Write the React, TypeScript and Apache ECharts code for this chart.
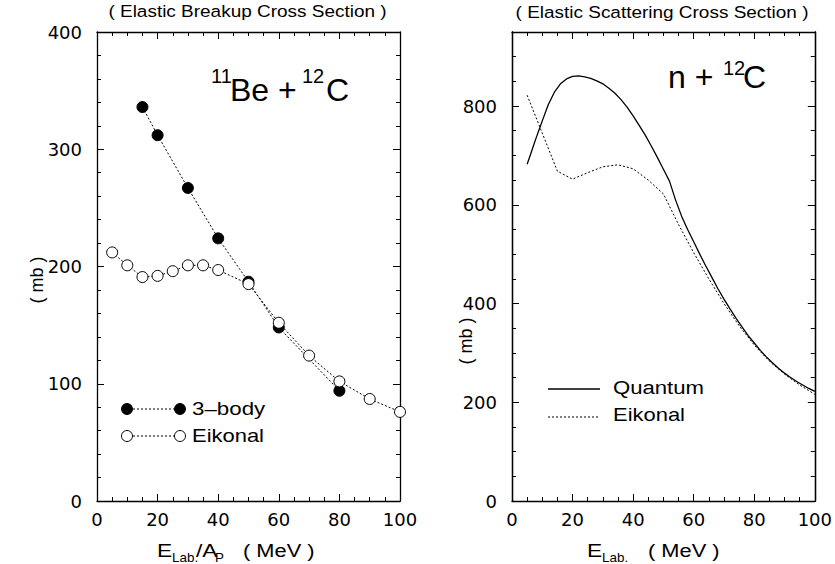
import React, { useEffect, useRef } from "react";
import * as echarts from "echarts";

// ---- Left panel: elastic breakup cross section (11Be + 12C) ----
const breakupEnergy = [15, 20, 30, 40, 50, 60, 80];
const breakupThreeBody = [336, 312, 267, 224, 187, 148, 94];
const breakupEikonalEnergy = [5, 10, 15, 20, 25, 30, 35, 40, 50, 60, 70, 80, 90, 100];
const breakupEikonal = [212, 201, 191, 192, 196, 201, 201, 197, 185, 152, 124, 102, 87, 76];

// ---- Right panel: elastic scattering cross section (n + 12C) ----
const quantumEnergy = [
  5, 6, 7, 8, 9, 10, 12, 14, 16, 18, 20, 22, 24, 26, 28, 30, 32, 34, 36, 38, 40,
  42, 44, 46, 48, 50, 52, 54, 56, 58, 60, 62, 64, 66, 68, 70, 72, 74, 76, 78, 80,
  82, 84, 86, 88, 90, 92, 94, 96, 98, 100,
];
const quantumSigma = [
  682, 700, 718, 736, 753, 770, 803, 828, 845, 855, 860, 861, 859, 856, 851, 845,
  836, 826, 813, 798, 780, 761, 741, 719, 696, 672, 648, 610, 577, 550, 525, 500,
  476, 453, 430, 409, 389, 370, 352, 335, 320, 305, 292, 280, 269, 259, 250, 242,
  235, 228, 222,
];
const eikonalScatEnergy = [5, 10, 15, 20, 25, 30, 35, 40, 45, 50, 55, 60, 65, 70, 75, 80, 85, 90, 95, 100];
const eikonalScatSigma = [822, 745, 668, 652, 665, 677, 681, 673, 650, 622, 560, 503, 450, 400, 355, 316, 283, 257, 235, 216];

const energyTicks = { min: 0, max: 100, interval: 20 };
const breakupTicks = { min: 0, max: 400, interval: 100 };
const scatTicks = { min: 0, max: 950, interval: 200, minorInterval: 50 };

const FONT = "'Liberation Sans', Arial, Helvetica, sans-serif";
const TICK_FONT = "'DejaVu Sans', 'Liberation Sans', sans-serif";
const BLACK = "#000";

const pairs = (xs: number[], ys: number[]) => xs.map((x, i) => [x, ys[i]]);

function xAxisCfg(gridIndex: number, top: boolean) {
  return {
    type: "value",
    gridIndex,
    position: top ? "top" : "bottom",
    min: energyTicks.min,
    max: energyTicks.max,
    interval: energyTicks.interval,
    axisLine: { show: true, onZero: false, lineStyle: { color: BLACK, width: 1.3 } },
    axisTick: { show: true, inside: true, length: 7, lineStyle: { color: BLACK, width: 1 } },
    minorTick: { show: true, splitNumber: 4, length: 4, lineStyle: { color: BLACK, width: 1 } },
    splitLine: { show: false },
    minorSplitLine: { show: false },
    axisLabel: {
      show: !top,
      color: BLACK,
      fontFamily: TICK_FONT,
      fontSize: 18,
      margin: 9,
    },
  };
}

function yAxisCfg(
  gridIndex: number,
  right: boolean,
  min: number,
  max: number,
  interval: number,
  opts: { minorSplit?: number; tickLen?: number; labels?: boolean; labelMod?: number }
) {
  return {
    type: "value",
    gridIndex,
    position: right ? "right" : "left",
    min,
    max,
    interval,
    axisLine: { show: true, onZero: false, lineStyle: { color: BLACK, width: 1.3 } },
    axisTick: { show: true, inside: true, length: opts.tickLen ?? 7, lineStyle: { color: BLACK, width: 1 } },
    minorTick: {
      show: !!opts.minorSplit,
      splitNumber: opts.minorSplit ?? 5,
      length: 4,
      lineStyle: { color: BLACK, width: 1 },
    },
    splitLine: { show: false },
    minorSplitLine: { show: false },
    axisLabel: {
      show: !!opts.labels,
      color: BLACK,
      fontFamily: TICK_FONT,
      fontSize: 18,
      margin: 15,
      formatter: (v: number) =>
        opts.labelMod ? (v % opts.labelMod === 0 ? String(v) : "") : String(v),
    },
  };
}

function txt(
  text: string,
  x: number,
  y: number,
  size: number,
  sx = 1,
  align: "left" | "center" | "right" = "left",
  rotation = 0
) {
  return {
    type: "text",
    x,
    y,
    scaleX: sx,
    rotation,
    silent: true,
    style: {
      text,
      fill: BLACK,
      fontFamily: FONT,
      fontSize: size,
      textAlign: align,
      textVerticalAlign: "middle",
    },
  };
}

function circle(cx: number, cy: number, filled: boolean) {
  return {
    type: "circle",
    silent: true,
    shape: { cx, cy, r: 5.5 },
    style: { fill: filled ? BLACK : "#fff", stroke: BLACK, lineWidth: 1 },
    z: 10,
  };
}

function seg(x1: number, x2: number, y: number, dotted: boolean) {
  return {
    type: "line",
    silent: true,
    shape: { x1, y1: y, x2, y2: y },
    style: { stroke: BLACK, lineWidth: dotted ? 1 : 1.3, lineDash: dotted ? [2, 2] : null },
  };
}

export default function App() {
  const ref = useRef<HTMLDivElement>(null);

  useEffect(() => {
    if (!ref.current) return;
    const chart = echarts.init(ref.current, undefined, { renderer: "svg" });

    const option: any = {
      animation: false,
      backgroundColor: "#fff",
      grid: [
        { left: 97, top: 32, width: 303, height: 469 },
        { left: 512, top: 32, width: 303, height: 469 },
      ],
      xAxis: [xAxisCfg(0, false), xAxisCfg(0, true), xAxisCfg(1, false), xAxisCfg(1, true)],
      yAxis: [
        yAxisCfg(0, false, breakupTicks.min, breakupTicks.max, breakupTicks.interval, { minorSplit: 5, labels: true }),
        yAxisCfg(0, true, breakupTicks.min, breakupTicks.max, breakupTicks.interval, { minorSplit: 5 }),
        yAxisCfg(1, false, scatTicks.min, scatTicks.max, scatTicks.interval, { labels: true, labelMod: scatTicks.interval }),
        yAxisCfg(1, false, scatTicks.min, scatTicks.max, scatTicks.minorInterval, { tickLen: 4 }),
        yAxisCfg(1, true, scatTicks.min, scatTicks.max, scatTicks.interval, {}),
        yAxisCfg(1, true, scatTicks.min, scatTicks.max, scatTicks.minorInterval, { tickLen: 4 }),
      ],
      series: [
        {
          name: "3-body",
          type: "line",
          xAxisIndex: 0,
          yAxisIndex: 0,
          data: pairs(breakupEnergy, breakupThreeBody),
          symbol: "circle",
          symbolSize: 11,
          itemStyle: { color: BLACK, borderColor: BLACK, borderWidth: 1 },
          lineStyle: { color: BLACK, width: 1, type: [2, 2] },
        },
        {
          name: "Eikonal",
          type: "line",
          xAxisIndex: 0,
          yAxisIndex: 0,
          data: pairs(breakupEikonalEnergy, breakupEikonal),
          symbol: "circle",
          symbolSize: 11,
          itemStyle: { color: "#fff", borderColor: BLACK, borderWidth: 1 },
          lineStyle: { color: BLACK, width: 1, type: [2, 2] },
        },
        {
          name: "Quantum",
          type: "line",
          xAxisIndex: 2,
          yAxisIndex: 2,
          data: pairs(quantumEnergy, quantumSigma),
          symbol: "none",
          lineStyle: { color: BLACK, width: 1.3 },
        },
        {
          name: "Eikonal (scattering)",
          type: "line",
          xAxisIndex: 2,
          yAxisIndex: 2,
          data: pairs(eikonalScatEnergy, eikonalScatSigma),
          symbol: "none",
          lineStyle: { color: BLACK, width: 1, type: [2, 2] },
        },
      ],
      graphic: [
        // titles
        txt("( Elastic Breakup Cross Section )", 247.5, 11, 16.5, 1.15, "center"),
        txt("( Elastic Scattering Cross Section )", 662, 12, 16.5, 1.15, "center"),
        // left annotation: 11Be + 12C
        txt("11", 211, 76, 20),
        txt("Be +", 230, 89.5, 32),
        txt("12", 302, 76, 20),
        txt("C", 326, 89.5, 32),
        // right annotation: n + 12C
        txt("n +", 668, 76.5, 32),
        txt("12", 723, 68, 20),
        txt("C", 743, 76.5, 32),
        // y axis names
        txt("( mb )", 37, 280, 18, 1, "center", Math.PI / 2),
        txt("( mb )", 466, 341, 18, 1, "center", Math.PI / 2),
        // x axis names (left)
        txt("E", 157, 550, 19, 1.2),
        txt("Lab.", 172, 558, 12, 1.12),
        txt("/A", 196, 550, 19, 1.2),
        txt("P", 215, 558, 12, 1.12),
        txt("( MeV )", 243, 550, 19, 1.15),
        // x axis names (right)
        txt("E", 587, 550, 19, 1.2),
        txt("Lab.", 602, 558, 12, 1.12),
        txt("( MeV )", 648, 550, 19, 1.15),
        // left legend
        seg(133, 174, 409, true),
        circle(127, 409, true),
        circle(180, 409, true),
        txt("3–body", 192, 409, 18, 1.24),
        seg(133, 174, 436, true),
        circle(127, 436, false),
        circle(180, 436, false),
        txt("Eikonal", 192, 436, 18, 1.22),
        // right legend
        seg(548, 600, 389, false),
        txt("Quantum", 613, 388, 18, 1.23),
        seg(548, 600, 417, true),
        txt("Eikonal", 613, 415, 18, 1.22),
      ],
    };

    chart.setOption(option);
    return () => chart.dispose();
  }, []);

  return (
    <div
      ref={ref}
      style={{ position: "fixed", left: 0, top: 0, width: 835, height: 564, background: "#fff" }}
    />
  );
}
